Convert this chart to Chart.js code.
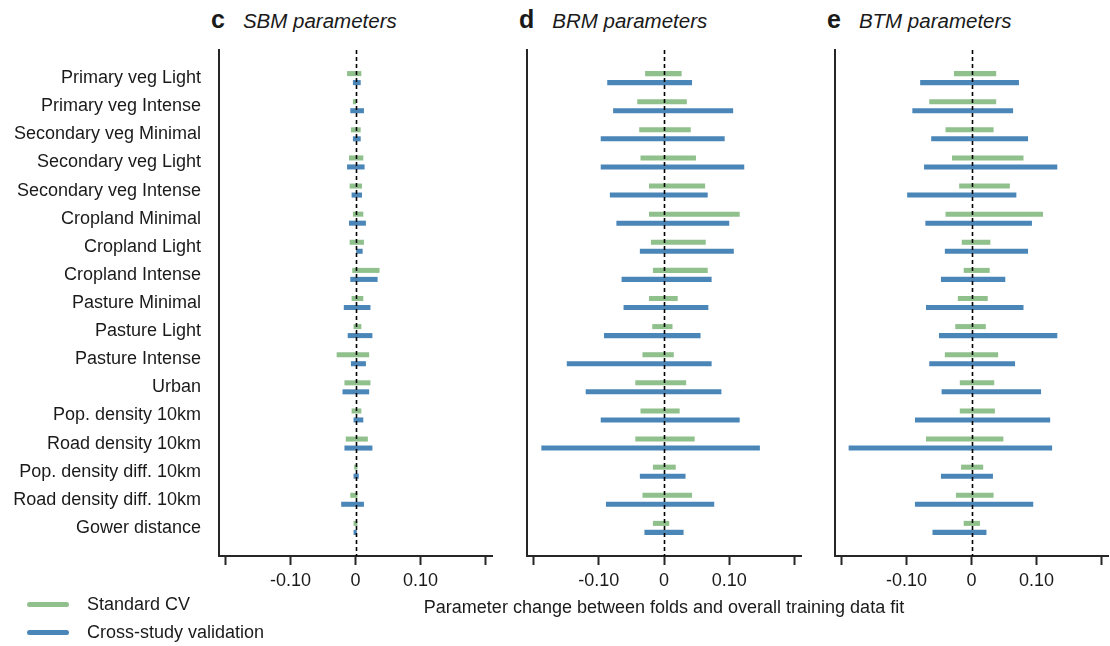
<!DOCTYPE html>
<html>
<head>
<meta charset="utf-8">
<script src="https://cdn.jsdelivr.net/npm/chart.js@4"></script>
<style>
  html, body { margin: 0; padding: 0; background: #ffffff; }
  body { width: 1110px; height: 646px; position: relative; overflow: hidden;
         font-family: "Liberation Sans", Arial, sans-serif; color: #1a1a1a; }
  canvas { position: absolute; top: 0; }
  .panel-title { position: absolute; top: 5px; white-space: nowrap; }
  .panel-title b { font-size: 25px; font-weight: bold; margin-right: 18px; }
  .panel-title i { font-size: 20.5px; }
  .axis-title { position: absolute; top: 597px; left: 314px; width: 700px; text-align: center; font-size: 18px; }
  .legend-row { position: absolute; left: 27px; height: 20px; display: flex; align-items: center; font-size: 18px; }
  .legend-row span.swatch { display: inline-block; width: 42px; height: 5px; border-radius: 3px; margin-right: 18px; }
</style>
</head>
<body>
<div class="panel-title" style="left:211px;"><b>c</b><i>SBM parameters</i></div>
<div class="panel-title" style="left:519px;"><b>d</b><i>BRM parameters</i></div>
<div class="panel-title" style="left:827px;"><b>e</b><i>BTM parameters</i></div>

<canvas id="sbm" width="500" height="600" style="left:0px;"></canvas>
<canvas id="brm" width="310" height="600" style="left:500px;"></canvas>
<canvas id="btm" width="302" height="600" style="left:808px;"></canvas>

<div class="axis-title">Parameter change between folds and overall training data fit</div>
<div class="legend-row" style="top:594px;"><span class="swatch" style="background:#90c08c;"></span>Standard CV</div>
<div class="legend-row" style="top:622px;"><span class="swatch" style="background:#4b86b8;"></span>Cross-study validation</div>

<script>
// Model parameters (rows, top to bottom)
const categories = [
  'Primary veg Light', 'Primary veg Intense', 'Secondary veg Minimal', 'Secondary veg Light',
  'Secondary veg Intense', 'Cropland Minimal', 'Cropland Light', 'Cropland Intense',
  'Pasture Minimal', 'Pasture Light', 'Pasture Intense', 'Urban',
  'Pop. density 10km', 'Road density 10km', 'Pop. density diff. 10km', 'Road density diff. 10km',
  'Gower distance'
];

// x-axis ticks and their labels
const xTickValues = [-0.2, -0.1, 0, 0.1, 0.2];
const xTickLabels = ['', '-0.10', '0', '0.10', ''];

// Range [min, max] of parameter change across folds, per parameter
const sbmStandard = [
  [-0.013, 0.009], [-0.004, 0.001], [-0.007, 0.008], [-0.010, 0.012], [-0.009, 0.010],
  [-0.004, 0.012], [-0.009, 0.013], [-0.005, 0.037], [-0.006, 0.012], [-0.003, 0.009],
  [-0.029, 0.021], [-0.017, 0.023], [-0.006, 0.009], [-0.015, 0.019], [-0.002, 0.003],
  [-0.008, 0.003], [-0.003, 0.003]
];
const sbmCrossStudy = [
  [-0.004, 0.008], [-0.008, 0.013], [-0.004, 0.008], [-0.013, 0.014], [-0.006, 0.010],
  [-0.010, 0.016], [0.001, 0.011], [-0.008, 0.034], [-0.018, 0.023], [-0.012, 0.026],
  [-0.007, 0.016], [-0.020, 0.021], [-0.003, 0.012], [-0.017, 0.026], [-0.003, 0.005],
  [-0.022, 0.013], [-0.003, 0.002]
];
const brmStandard = [
  [-0.029, 0.027], [-0.041, 0.035], [-0.038, 0.041], [-0.036, 0.049], [-0.023, 0.063],
  [-0.023, 0.116], [-0.020, 0.064], [-0.017, 0.067], [-0.023, 0.021], [-0.018, 0.013],
  [-0.033, 0.015], [-0.044, 0.034], [-0.036, 0.024], [-0.044, 0.047], [-0.017, 0.018],
  [-0.033, 0.043], [-0.017, 0.008]
];
const brmCrossStudy = [
  [-0.087, 0.043], [-0.078, 0.106], [-0.097, 0.093], [-0.097, 0.123], [-0.083, 0.067],
  [-0.073, 0.100], [-0.037, 0.107], [-0.065, 0.073], [-0.062, 0.068], [-0.092, 0.056],
  [-0.149, 0.073], [-0.120, 0.088], [-0.097, 0.116], [-0.188, 0.147], [-0.037, 0.033],
  [-0.089, 0.077], [-0.030, 0.030]
];
const btmStandard = [
  [-0.027, 0.038], [-0.065, 0.038], [-0.040, 0.034], [-0.030, 0.080], [-0.019, 0.059],
  [-0.040, 0.110], [-0.015, 0.029], [-0.012, 0.028], [-0.021, 0.025], [-0.025, 0.022],
  [-0.041, 0.041], [-0.018, 0.035], [-0.018, 0.036], [-0.070, 0.049], [-0.016, 0.018],
  [-0.024, 0.034], [-0.012, 0.013]
];
const btmCrossStudy = [
  [-0.079, 0.073], [-0.091, 0.064], [-0.062, 0.087], [-0.073, 0.132], [-0.099, 0.069],
  [-0.071, 0.093], [-0.041, 0.087], [-0.047, 0.052], [-0.070, 0.080], [-0.050, 0.132],
  [-0.065, 0.067], [-0.046, 0.107], [-0.087, 0.121], [-0.189, 0.124], [-0.047, 0.033],
  [-0.087, 0.095], [-0.060, 0.023]
];

const GREEN = '#90c08c';
const BLUE = '#4b86b8';
const INK = '#1a1a1a';
const FONT = '"Liberation Sans", Arial, sans-serif';

// dashed reference line at zero change
const zeroLine = {
  id: 'zeroLine',
  afterDatasetsDraw(chart) {
    const { ctx, chartArea, scales } = chart;
    const x = Math.round(scales.x.getPixelForValue(0)) + 0.5;
    ctx.save();
    ctx.strokeStyle = '#000000';
    ctx.lineWidth = 1.6;
    ctx.setLineDash([4, 3]);
    ctx.beginPath();
    ctx.moveTo(x, chartArea.top);
    ctx.lineTo(x, chartArea.bottom);
    ctx.stroke();
    ctx.restore();
  }
};

function toPoints(ranges) {
  return ranges.map((r, i) => ({ x: r, y: i }));
}

function makePanel(id, standard, crossStudy, opts) {
  new Chart(document.getElementById(id), {
    type: 'bar',
    data: {
      datasets: [
        { label: 'Standard CV', data: toPoints(standard), backgroundColor: GREEN, borderWidth: 0 },
        { label: 'Cross-study validation', data: toPoints(crossStudy), backgroundColor: BLUE, borderWidth: 0 }
      ]
    },
    options: {
      indexAxis: 'y',
      responsive: false,
      animation: false,
      devicePixelRatio: 1,
      categoryPercentage: 0.64,
      barPercentage: 0.56,
      layout: { padding: { top: 50, right: opts.padRight, bottom: 0, left: 0 } },
      plugins: { legend: { display: false }, tooltip: { enabled: false } },
      scales: {
        x: {
          type: 'linear',
          min: -0.21,
          max: 0.21,
          offset: false,
          afterBuildTicks: (scale) => { scale.ticks = xTickValues.map(v => ({ value: v })); },
          afterFit: (scale) => { scale.height = 44; },
          grid: { display: true, drawOnChartArea: false, drawTicks: true, tickLength: 9,
                  tickWidth: 2, tickColor: '#262626' },
          border: { display: true, color: '#262626', width: 2 },
          ticks: {
            autoSkip: false, maxRotation: 0, padding: 5, color: INK,
            font: { family: FONT, size: 18 },
            callback: (value, index) => xTickLabels[index]
          }
        },
        y: {
          type: 'linear',
          reverse: true,
          offset: false,
          min: -1,
          max: 17,
          afterBuildTicks: (scale) => { scale.ticks = categories.map((c, i) => ({ value: i })); },
          afterFit: (scale) => { scale.width = opts.axisWidth; },
          grid: { display: false, drawTicks: false },
          border: { display: true, color: '#262626', width: 2 },
          ticks: {
            display: opts.showLabels,
            autoSkip: false, padding: 18, color: INK,
            font: { family: FONT, size: 18 },
            callback: (value) => categories[value] ?? ''
          }
        }
      }
    },
    plugins: [zeroLine]
  });
}

makePanel('sbm', sbmStandard, sbmCrossStudy, { axisWidth: 219, padRight: 8, showLabels: true });
makePanel('brm', brmStandard, brmCrossStudy, { axisWidth: 27, padRight: 9, showLabels: false });
makePanel('btm', btmStandard, btmCrossStudy, { axisWidth: 27, padRight: 2, showLabels: false });
</script>
</body>
</html>
